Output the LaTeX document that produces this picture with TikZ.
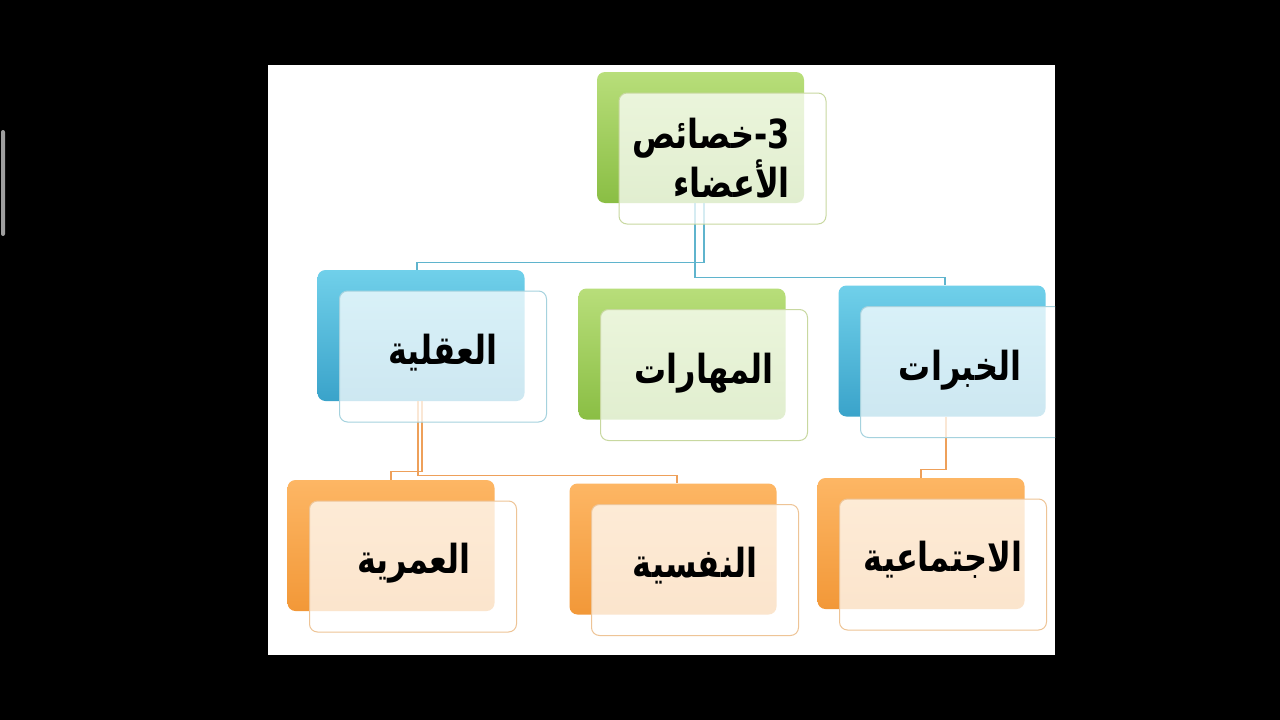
\documentclass[tikz,border=0pt]{standalone}
\usepackage{fontspec}
\newfontfamily\arabicfont[Script=Arabic, FakeStretch=0.8]{DejaVu Sans}
\TeXXeTstate=1
\definecolor{bluetop}{RGB}{112,208,234}
\definecolor{bluebot}{RGB}{58,163,202}
\definecolor{blueline}{RGB}{95,180,205}
\definecolor{blueedge}{RGB}{165,210,222}
\definecolor{greentop}{RGB}{184,222,122}
\definecolor{greenbot}{RGB}{138,190,68}
\definecolor{greenedge}{RGB}{200,216,160}
\definecolor{orangetop}{RGB}{253,182,100}
\definecolor{orangebot}{RGB}{242,152,56}
\definecolor{orangeline}{RGB}{238,160,90}
\definecolor{orangeedge}{RGB}{238,196,150}
\tikzset{
  backbox/.style={rounded corners=8pt, minimum width=207pt, minimum height=131pt,
    top color=#1top, bottom color=#1bot, draw=none},
  frontbox/.style={rounded corners=8pt, minimum width=207pt, minimum height=131pt,
    fill=white, fill opacity=0.75, draw=#1edge, line width=1pt},
  lbl/.style={font=\arabicfont\bfseries\fontsize{40}{47}\selectfont, align=right, inner sep=0pt},
  bluelink/.style={draw=blueline, line width=1.3pt},
  orangelink/.style={draw=orangeline, line width=1.3pt}
}
\begin{document}
\begin{tikzpicture}[x=1pt, y=-1pt]
\useasboundingbox (0,0) rectangle (1280,720);
\fill[black] (0,0) rectangle (1280,720);
\fill[gray!75, rounded corners=2pt] (1,130) rectangle (5,236);
\fill[white] (268,65) rectangle (1055,655);
\begin{scope}
\clip (268,65) rectangle (1055,655);
% back boxes
\node[backbox=green] (t) at (700.5,137.5) {};
\node[backbox=blue] (l) at (421,335.5) {};
\node[backbox=green] (m) at (682,354) {};
\node[backbox=blue] (r) at (942,351) {};
\node[backbox=orange] (a) at (391,545.5) {};
\node[backbox=orange] (b) at (673,549) {};
\node[backbox=orange] (c) at (921,543.5) {};
% connectors
\draw[bluelink] ([xshift=3.5]t.south) -- ++(0,59) -| ([xshift=-4]l.north);
\draw[bluelink] ([xshift=-5.5]t.south) -- ++(0,74) -| ([xshift=3]r.north);
\draw[orangelink] ([xshift=1]l.south) -- ++(0,70) -| (a.north);
\draw[orangelink] ([xshift=-3]l.south) -- ++(0,74) -| ([xshift=4]b.north);
\draw[orangelink] ([xshift=4]r.south) -- ++(0,53) -| (c.north);
% front boxes
\node[frontbox=green] (tf) at ([shift={(22,21)}]t.center) {};
\node[frontbox=blue] (lf) at ([shift={(22,21)}]l.center) {};
\node[frontbox=green] (mf) at ([shift={(22,21)}]m.center) {};
\node[frontbox=blue] (rf) at ([shift={(22,21)}]r.center) {};
\node[frontbox=orange] (af) at ([shift={(22,21)}]a.center) {};
\node[frontbox=orange] (bf) at ([shift={(22,21)}]b.center) {};
\node[frontbox=orange] (cf) at ([shift={(22,21)}]c.center) {};
\end{scope}
% labels
\node[lbl] (tx) at (711,158) {\beginR 3-خصائص\endR\\\beginR الأعضاء\endR};
\node[lbl] (lx) at (443,353) {\beginR العقلية\endR};
\node[lbl] (mx) at (704,373) {\beginR المهارات\endR};
\node[lbl] (rx) at (960,370) {\beginR الخبرات\endR};
\node[lbl] (ax) at (414,563) {\beginR العمرية\endR};
\node[lbl] (bx) at (695,566) {\beginR النفسية\endR};
\node[lbl] (cx) at (943,560) {\beginR الاجتماعية\endR};
\end{tikzpicture}
\end{document}
